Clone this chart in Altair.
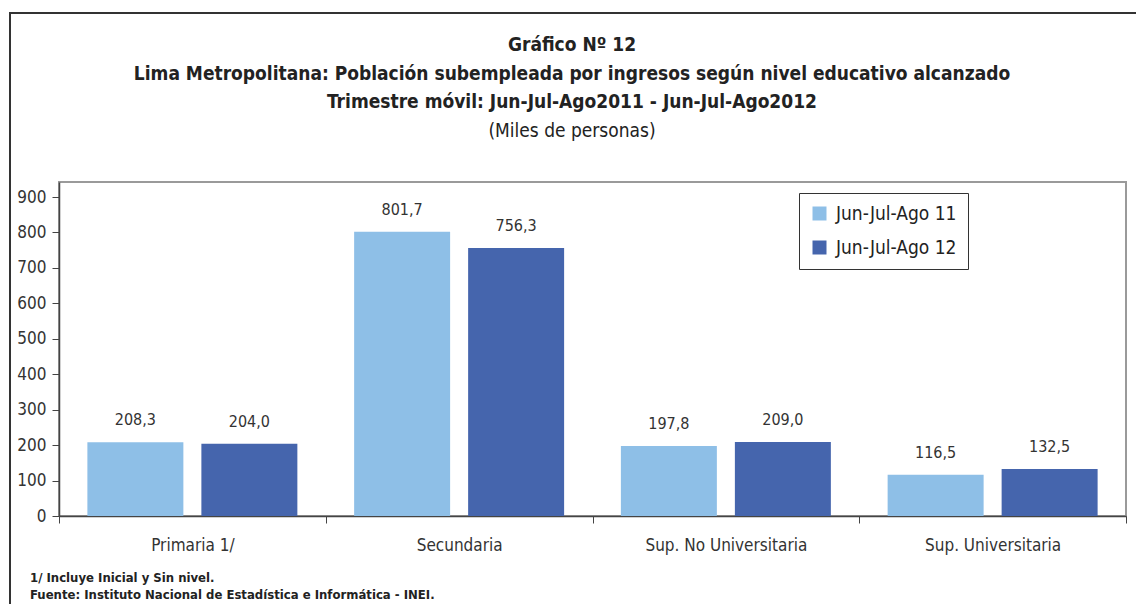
import altair as alt
import pandas as pd

categories = ["Primaria  1/", "Secundaria", "Sup. No Universitaria", "Sup. Universitaria"]
series = ["Jun-Jul-Ago 11", "Jun-Jul-Ago 12"]
v11 = [208.3, 801.7, 197.8, 116.5]
v12 = [204.0, 756.3, 209.0, 132.5]
y_ticks = [0, 100, 200, 300, 400, 500, 600, 700, 800, 900]

title_lines = [
    "Gráfico Nº 12",
    "Lima Metropolitana: Población subempleada por ingresos según nivel educativo alcanzado",
    "Trimestre móvil: Jun-Jul-Ago2011 - Jun-Jul-Ago2012",
]
subtitle = "(Miles de personas)"
notes = ["1/ Incluye Inicial y Sin nivel.", "Fuente: Instituto Nacional de Estadística e Informática - INEI."]

rows = []
for c, a, b in zip(categories, v11, v12):
    rows.append({"cat": c, "serie": series[0], "v": a})
    rows.append({"cat": c, "serie": series[1], "v": b})
df = pd.DataFrame(rows)

FONT = "Liberation Sans Narrow, DejaVu Sans Condensed, Arial Narrow, sans-serif"
colors = ["#8EBFE7", "#4565AD"]

x_enc = alt.X("cat:N", sort=categories, title=None,
              scale=alt.Scale(paddingInner=0, paddingOuter=0),
              axis=alt.Axis(labelAngle=0, tickBand="extent", tickSize=7, tickColor="#444",
                            domainColor="#444", domainWidth=1.5, labelFontSize=17,
                            labelColor="#333", labelFont=FONT, labelPadding=14))
xo_enc = alt.XOffset("serie:N", sort=series,
                     scale=alt.Scale(paddingInner=0.158, paddingOuter=0.249))
y_enc = alt.Y("v:Q", title=None,
              scale=alt.Scale(domain=[0, 942.4], nice=False, zero=True),
              axis=alt.Axis(values=y_ticks, grid=False, tickSize=7, tickColor="#444",
                            domainColor="#444", domainWidth=1.5, labelFontSize=17,
                            labelColor="#333", labelFont=FONT, labelPadding=6,
                            labelOverlap=False, tickCount=10))

bars = alt.Chart(df).mark_bar().encode(
    x=x_enc, xOffset=xo_enc, y=y_enc,
    color=alt.Color("serie:N", sort=series, scale=alt.Scale(domain=series, range=colors),
                    legend=alt.Legend(title=None, orient="none", legendX=740, legendY=11,
                                      direction="vertical", strokeColor="#333",
                                      fillColor="white", padding=11, symbolType="square",
                                      symbolSize=196, symbolStrokeWidth=0, labelFontSize=19,
                                      labelFont=FONT, labelColor="#222", rowPadding=14,
                                      labelOffset=7)),
)

labels = alt.Chart(df).transform_calculate(
    lab="replace(format(datum.v, '.1f'), '.', ',')"
).mark_text(baseline="alphabetic", dy=-17, fontSize=16, font=FONT, color="#333").encode(
    x=x_enc, xOffset=xo_enc, y=y_enc, text="lab:N"
)

one = pd.DataFrame({"d": [0]})

frame = alt.Chart(one).mark_rect(fillOpacity=0, stroke="#333", strokeWidth=2).encode(
    x=alt.value(-49), x2=alt.value(1200), y=alt.value(-169), y2=alt.value(700)
)

title_layers = []
for i, (t, yy) in enumerate(zip(title_lines, [-137, -108, -80])):
    title_layers.append(
        alt.Chart(one).mark_text(fontSize=19, fontWeight="bold", font=FONT, color="#222",
                                 baseline="middle").encode(
            x=alt.value(513), y=alt.value(yy), text=alt.value(t))
    )
title_layers.append(
    alt.Chart(one).mark_text(fontSize=19, font=FONT, color="#222", baseline="middle").encode(
        x=alt.value(513), y=alt.value(-51), text=alt.value(subtitle))
)
for t, yy in zip(notes, [396, 413]):
    title_layers.append(
        alt.Chart(one).mark_text(fontSize=13, fontWeight="bold", font=FONT, color="#222",
                                 align="left", baseline="middle").encode(
            x=alt.value(-29), y=alt.value(yy), text=alt.value(t))
    )

chart = alt.layer(bars, labels, frame, *title_layers).properties(
    width=1067, height=334, autosize="none",
    padding={"left": 51, "top": 174, "right": 10, "bottom": 88},
    background="white",
).configure_view(stroke="#9a9a9a", strokeWidth=2)

chart.save("out.html", embed_options={"renderer": "svg", "actions": False})
